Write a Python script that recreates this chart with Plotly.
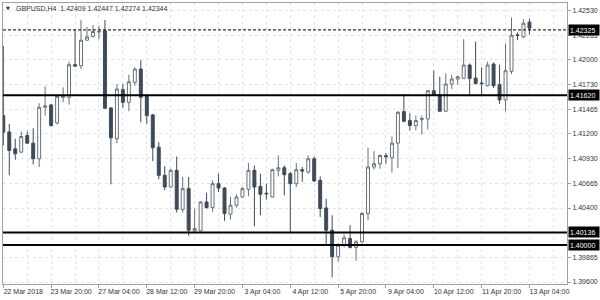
import plotly.graph_objects as go

# ---- data (GBPUSD H4) ----
opens = [1.41399,1.41222,1.41040,1.41004,1.41184,1.41101,1.40932,1.41489,1.41514,1.41320,
         1.41597,1.41597,1.41949,1.41938,1.42214,1.42254,1.42302,1.42315,1.41482,1.41148,
         1.41679,1.41543,1.41758,1.41902,1.41607,1.41406,1.41058,1.40753,1.40627,1.40807,
         1.40386,1.40609,1.40153,1.40153,1.40465,1.40404,1.40663,1.40616,1.40333,1.40430,
         1.40519,1.40602,1.40807,1.40634,1.40559,1.40519,1.40807,1.40835,1.40771,1.40663,
         1.40814,1.40789,1.40932,1.40699,1.40401,1.40160,1.39873,1.39999,1.40070,1.39974,
         1.40035,1.40340,1.40843,1.40878,1.40965,1.40943,1.41101,1.41442,1.41345,1.41291,
         1.41356,1.41363,1.41668,1.41622,1.41446,1.41740,1.41794,1.41801,1.41945,1.41805,
         1.41751,1.41722,1.41956,1.41733,1.41568,1.41877,1.42272,1.42250,1.42409]
highs = [1.42153,1.41309,1.41148,1.41227,1.41227,1.41263,1.41532,1.41715,1.41525,1.41615,
         1.41704,1.41981,1.42333,1.42433,1.42358,1.42379,1.42369,1.42433,1.41489,1.41740,
         1.41740,1.41841,1.41920,1.41999,1.41622,1.41417,1.41112,1.40853,1.40825,1.40957,
         1.40735,1.40735,1.40394,1.40473,1.40566,1.40699,1.40771,1.40627,1.40519,1.40548,
         1.40627,1.40886,1.40860,1.40771,1.40663,1.40825,1.40968,1.40860,1.40789,1.40886,
         1.40843,1.40968,1.40957,1.40742,1.40501,1.40322,1.40017,1.40114,1.40214,1.40053,
         1.40358,1.41051,1.41015,1.40979,1.40993,1.41173,1.41446,1.41633,1.41424,1.41399,
         1.41399,1.41676,1.41884,1.41819,1.41855,1.41841,1.41830,1.42225,1.41963,1.42200,
         1.41920,1.41981,1.41974,1.41949,1.42178,1.42458,1.42297,1.42441,1.42447]
lows = [1.41076,1.40753,1.40921,1.40993,1.41094,1.40871,1.40843,1.41399,1.41281,1.41302,
        1.41543,1.41518,1.41927,1.41902,1.42210,1.42243,1.42225,1.41471,1.40656,1.41101,
        1.41482,1.41446,1.41722,1.41327,1.41309,1.40907,1.40710,1.40591,1.40620,1.40351,
        1.40351,1.40099,1.40135,1.40149,1.40394,1.40358,1.40573,1.40261,1.40275,1.40404,
        1.40512,1.40527,1.40203,1.40322,1.40491,1.40512,1.40742,1.40537,1.40135,1.40627,
        1.40681,1.40771,1.40681,1.40304,1.39999,1.39650,1.39819,1.39974,1.39963,1.39830,
        1.40017,1.40268,1.40814,1.40825,1.40878,1.40782,1.40832,1.41327,1.41238,1.41238,
        1.41194,1.41248,1.41615,1.41442,1.41442,1.41686,1.41730,1.41794,1.41607,1.41733,
        1.41607,1.41712,1.41697,1.41525,1.41446,1.41848,1.42214,1.42236,1.42274]
closes = [1.41220,1.41022,1.40986,1.41173,1.41101,1.40932,1.41489,1.41503,1.41291,1.41607,
          1.41607,1.41949,1.41934,1.42214,1.42250,1.42308,1.42308,1.41478,1.41159,1.41686,
          1.41543,1.41765,1.41902,1.41597,1.41399,1.41051,1.40753,1.40627,1.40807,1.40386,
          1.40609,1.40160,1.40178,1.40465,1.40404,1.40663,1.40616,1.40340,1.40430,1.40519,
          1.40609,1.40807,1.40627,1.40548,1.40553,1.40814,1.40835,1.40760,1.40663,1.40814,
          1.40800,1.40932,1.40692,1.40394,1.40160,1.39873,1.39999,1.40078,1.39974,1.40035,
          1.40340,1.40843,1.40878,1.40968,1.40954,1.41101,1.41435,1.41338,1.41291,1.41345,
          1.41367,1.41668,1.41622,1.41446,1.41740,1.41794,1.41819,1.41945,1.41801,1.41747,
          1.41744,1.41945,1.41722,1.41568,1.41884,1.42268,1.42266,1.42397,1.42344]
bar_index = list(range(len(opens)))

x_tick_index = [0, 8, 16, 24, 32, 40, 48, 56, 64, 72, 80, 88]
x_tick_labels = ["22 Mar 2018", "23 Mar 20:00", "27 Mar 04:00", "28 Mar 12:00",
                 "29 Mar 20:00", "3 Apr 04:00", "4 Apr 12:00", "5 Apr 20:00",
                 "9 Apr 04:00", "10 Apr 12:00", "11 Apr 20:00", "13 Apr 04:00"]
y_tick_values = [1.42530, 1.42265, 1.42000, 1.41730, 1.41465, 1.41200,
                 1.40930, 1.40665, 1.40400, 1.39865, 1.39600]
level_values = [1.41620, 1.40136, 1.40000]
bid_price = 1.42325
header = "GBPUSD,H4  1.42409 1.42447 1.42274 1.42344"

FONT = "Liberation Sans"
GRID = "#e3e3e3"
BORDER = "#a0a0a0"
BEAR = "#3e4a59"
BULL_LINE = "#66707b"

fig = go.Figure()
fig.add_trace(go.Candlestick(
    x=bar_index, open=opens, high=highs, low=lows, close=closes,
    increasing=dict(line=dict(color=BULL_LINE, width=1), fillcolor="white"),
    decreasing=dict(line=dict(color=BEAR, width=1), fillcolor=BEAR),
    whiskerwidth=0, hoverinfo="skip", showlegend=False,
))

shapes = []
for lv in level_values:
    shapes.append(dict(type="line", xref="paper", x0=0, x1=1, yref="y", y0=lv, y1=lv,
                       line=dict(color="black", width=2), layer="above"))
shapes.append(dict(type="line", xref="paper", x0=0, x1=1, yref="y", y0=bid_price, y1=bid_price,
                   line=dict(color="black", width=1, dash="3px,2px"), layer="above"))

annotations = []
for lv in [bid_price] + level_values:
    annotations.append(dict(xref="paper", x=1, xanchor="left", xshift=1, yref="y", y=lv,
                            yanchor="middle", text=f"{lv:.5f}", showarrow=False,
                            bgcolor="black", font=dict(family=FONT, size=7, color="white"),
                            width=28, height=8, borderpad=1, align="left"))
annotations.append(dict(xref="paper", x=0, xanchor="left", xshift=11, yref="paper", y=1,
                        yanchor="middle", yshift=-5, text=header, showarrow=False,
                        font=dict(family=FONT, size=7, color="#333333")))
annotations.append(dict(xref="paper", x=0, xanchor="center", xshift=4.5, yref="paper", y=1,
                        yanchor="middle", yshift=-5, text="▼", showarrow=False,
                        font=dict(family="DejaVu Sans", size=5, color="#333333")))

fig.update_layout(
    width=600, height=300,
    margin=dict(l=2, r=32, t=2, b=16),
    paper_bgcolor="white", plot_bgcolor="white",
    font=dict(family=FONT, size=7, color="#333333"),
    showlegend=False,
    shapes=shapes, annotations=annotations,
    xaxis=dict(
        range=[-0.05, 94.28], rangeslider=dict(visible=False),
        tickmode="array", tickvals=x_tick_index, ticktext=x_tick_labels,
        ticks="outside", ticklen=3, tickcolor=BORDER,
        ticklabelshift=20, ticklabelstandoff=-2, ticklabeloverflow="allow",
        tickfont=dict(family=FONT, size=7, color="#333333"),
        showgrid=True, gridcolor=GRID, griddash="3px,3px", gridwidth=1,
        minor=dict(tickmode="linear", tick0=0, dtick=4, showgrid=True,
                   gridcolor=GRID, griddash="3px,3px", gridwidth=1),
        showline=True, linecolor=BORDER, linewidth=1, mirror=True,
        zeroline=False, fixedrange=True,
    ),
    yaxis=dict(
        side="right", range=[1.395785, 1.42616],
        tickmode="array", tickvals=y_tick_values,
        ticktext=[f"{v:.5f}" for v in y_tick_values],
        ticks="outside", ticklen=3, tickcolor=BORDER,
        tickfont=dict(family=FONT, size=7, color="#333333"),
        showgrid=True, gridcolor=GRID, griddash="3px,3px", gridwidth=1,
        showline=True, linecolor=BORDER, linewidth=1, mirror=True,
        zeroline=False, fixedrange=True,
    ),
)

fig.write_html("out.html")
